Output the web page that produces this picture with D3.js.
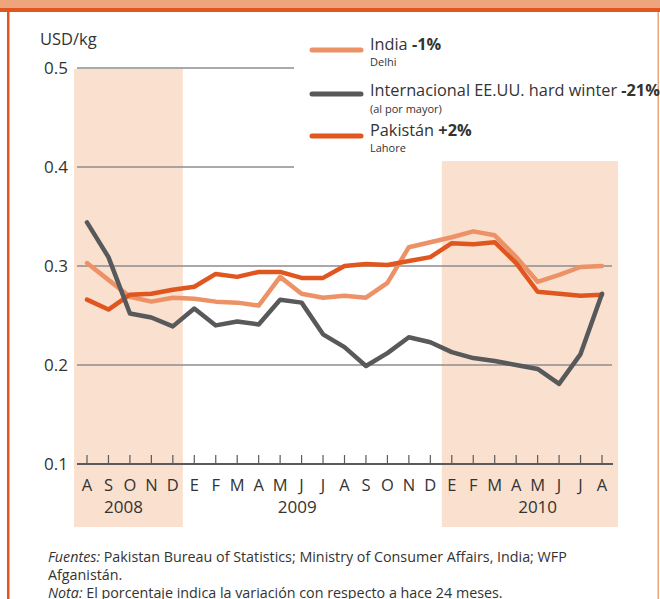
<!DOCTYPE html>
<html>
<head>
<meta charset="utf-8">
<script src="https://cdn.jsdelivr.net/npm/d3@7"></script>
<style>
  body { margin: 0; background: #fff; }
  svg { display: block; font-family: "Open Sans", "Noto Sans", sans-serif; }
</style>
</head>
<body>
<div id="chart"></div>
<script>
// months Aug 2008 .. Aug 2010
var months = ["A","S","O","N","D","E","F","M","A","M","J","J","A","S","O","N","D","E","F","M","A","M","J","J","A"];
var years = [{label: "2008", at: 1.7}, {label: "2009", at: 9.8}, {label: "2010", at: 21}];
var shaded = [[0, 4], [17, 24]];
var yTicks = [0.1, 0.2, 0.3, 0.4, 0.5];

var india = [0.303,0.286,0.269,0.264,0.268,0.267,0.264,0.263,0.260,0.289,0.272,0.268,0.270,0.268,0.283,0.319,0.324,0.329,0.335,0.331,0.309,0.284,0.291,0.299,0.300];
var intl = [0.344,0.309,0.252,0.248,0.239,0.257,0.240,0.244,0.241,0.266,0.263,0.231,0.218,0.199,0.212,0.228,0.223,0.213,0.207,0.204,0.200,0.196,0.181,0.211,0.272];
var pakistan = [0.266,0.256,0.271,0.272,0.276,0.279,0.292,0.289,0.294,0.294,0.288,0.288,0.300,0.302,0.301,0.305,0.309,0.323,0.322,0.324,0.303,0.274,0.272,0.270,0.271];

var series = [
  {name: "India", change: "-1%", sub: "Delhi", values: india, color: "#ec9266"},
  {name: "Internacional EE.UU. hard winter", change: "-21%", sub: "(al por mayor)", values: intl, color: "#58595b"},
  {name: "Pakistán", change: "+2%", sub: "Lahore", values: pakistan, color: "#e0561f"}
];

var width = 660, height = 599;
var svg = d3.select("#chart").append("svg")
    .attr("width", width)
    .attr("height", height);

// frame
svg.append("rect").attr("x", 0).attr("y", 0).attr("width", width).attr("height", 8).attr("fill", "#eea57d");
svg.append("rect").attr("x", 0).attr("y", 8).attr("width", width).attr("height", 4).attr("fill", "#e0561f");
svg.append("rect").attr("x", 7).attr("y", 8).attr("width", 2.5).attr("height", height).attr("fill", "#e0561f");
svg.append("rect").attr("x", 657.5).attr("y", 12).attr("width", 1.5).attr("height", height).attr("fill", "#eea57d");

var x = d3.scaleLinear().domain([0, months.length - 1]).range([87, 602]);
var y = d3.scaleLinear().domain([0.1, 0.5]).range([464, 68]);

// shaded periods
svg.selectAll("rect.shade")
    .data(shaded)
  .enter().append("rect")
    .attr("class", "shade")
    .attr("fill", "#f9e0cf")
    .attr("x", function(d, i) { return x(d[0]) - (i == 0 ? 13 : 10); })
    .attr("width", function(d, i) { return x(d[1]) - x(d[0]) + (i == 0 ? 23 : 26); })
    .attr("y", function(d, i) { return i == 0 ? y(0.5) + 1 : y(0.41) + 4; })
    .attr("height", function(d, i) { return 527 - (i == 0 ? y(0.5) + 1 : y(0.41) + 4); });

// gridlines
svg.selectAll("line.grid")
    .data(yTicks.slice(1))
  .enter().append("line")
    .attr("class", "grid")
    .attr("x1", 77)
    .attr("x2", function(d) { return d >= 0.4 ? 294 : 612; })
    .attr("y1", function(d) { return y(d); })
    .attr("y2", function(d) { return y(d); })
    .attr("stroke", "#8c8c8c")
    .attr("stroke-width", 1.3);

// baseline axis
svg.append("line")
    .attr("x1", 77).attr("x2", 613)
    .attr("y1", y(0.1)).attr("y2", y(0.1))
    .attr("stroke", "#5a5a5a")
    .attr("stroke-width", 2);

svg.selectAll("line.tick")
    .data(months)
  .enter().append("line")
    .attr("class", "tick")
    .attr("x1", function(d, i) { return x(i); })
    .attr("x2", function(d, i) { return x(i); })
    .attr("y1", y(0.1) - 9)
    .attr("y2", y(0.1))
    .attr("stroke", "#5a5a5a")
    .attr("stroke-width", 1.2);

svg.selectAll("text.month")
    .data(months)
  .enter().append("text")
    .attr("class", "month")
    .attr("x", function(d, i) { return x(i); })
    .attr("y", 491)
    .attr("text-anchor", "middle")
    .attr("font-size", 16.5)
    .attr("fill", "#333")
    .text(function(d) { return d; });

svg.selectAll("text.year")
    .data(years)
  .enter().append("text")
    .attr("class", "year")
    .attr("x", function(d) { return x(d.at); })
    .attr("y", 513)
    .attr("text-anchor", "middle")
    .attr("font-size", 17)
    .attr("fill", "#333")
    .text(function(d) { return d.label; });

// y labels
svg.selectAll("text.ylab")
    .data(yTicks)
  .enter().append("text")
    .attr("class", "ylab")
    .attr("x", 68)
    .attr("y", function(d) { return y(d) + 6; })
    .attr("text-anchor", "end")
    .attr("font-size", 17)
    .attr("fill", "#333")
    .text(function(d) { return d3.format(".1f")(d); });

svg.append("text")
    .attr("x", 40).attr("y", 45)
    .attr("font-size", 16.5)
    .attr("fill", "#333")
    .text("USD/kg");

// lines
var line = d3.line()
    .x(function(d, i) { return x(i); })
    .y(function(d) { return y(d); });

var drawOrder = [series[0], series[2], series[1]];
svg.selectAll("path.series")
    .data(drawOrder)
  .enter().append("path")
    .attr("class", "series")
    .attr("fill", "none")
    .attr("stroke", function(d) { return d.color; })
    .attr("stroke-width", 4.5)
    .attr("stroke-linejoin", "round")
    .attr("stroke-linecap", "round")
    .attr("d", function(d) { return line(d.values); });

// legend
var legendY = [50, 94, 136];
var legend = svg.selectAll("g.legend")
    .data(series)
  .enter().append("g")
    .attr("class", "legend")
    .attr("transform", function(d, i) { return "translate(0," + legendY[i] + ")"; });

legend.append("line")
    .attr("x1", 312).attr("x2", 361)
    .attr("y1", 0).attr("y2", 0)
    .attr("stroke", function(d) { return d.color; })
    .attr("stroke-width", 5)
    .attr("stroke-linecap", "round");

var lt = legend.append("text")
    .attr("x", 370).attr("y", function(d, i) { return i == 1 ? 2 : 0; })
    .attr("font-size", 16.3)
    .attr("fill", "#333");
lt.append("tspan").text(function(d) { return d.name + " "; });
lt.append("tspan").attr("font-weight", "bold").text(function(d) { return d.change; });

legend.append("text")
    .attr("x", 370).attr("y", function(d, i) { return i == 1 ? 19 : 16; })
    .attr("font-size", 11)
    .attr("fill", "#333")
    .text(function(d) { return d.sub; });

// notes
var notes = svg.append("text")
    .attr("x", 48).attr("y", 562)
    .attr("font-size", 14.3)
    .attr("fill", "#333");
var n1 = notes.append("tspan").attr("x", 48);
n1.append("tspan").attr("font-style", "italic").text("Fuentes:");
n1.append("tspan").text(" Pakistan Bureau of Statistics; Ministry of Consumer Affairs, India; WFP");
notes.append("tspan").attr("x", 48).attr("dy", 18).text("Afganistán.");
var n3 = notes.append("tspan").attr("x", 48).attr("dy", 18);
n3.append("tspan").attr("font-style", "italic").text("Nota:");
n3.append("tspan").text(" El porcentaje indica la variación con respecto a hace 24 meses.");
</script>
</body>
</html>
